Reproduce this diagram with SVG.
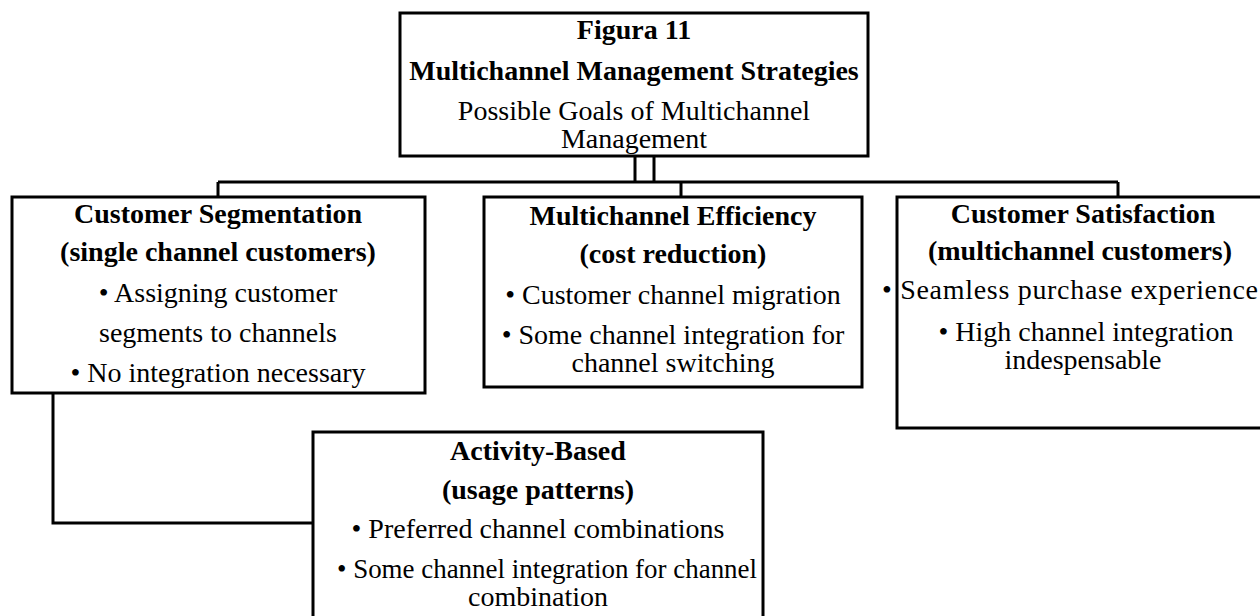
<svg xmlns="http://www.w3.org/2000/svg" width="1260" height="616" viewBox="0 0 1260 616">
<style>
.box{fill:#fff;stroke:#000;stroke-width:3}
.ln{fill:none;stroke:#000;stroke-width:3}
text{font-family:'Liberation Serif','Times New Roman',serif;font-size:28px;fill:#000;text-anchor:middle}
.b{font-weight:bold}
</style>
<rect width="1260" height="616" fill="#fff"/>
<g id="connectors">
<path class="ln" d="M635,156 V182 M654,156 V182 M218,182 H1118 M218,182 V197 M681,182 V197 M1118,182 V197"/>
<path class="ln" d="M53,393 V523 H313"/>
</g>
<g id="top">
<rect class="box" x="400" y="13" width="468" height="143"/>
<text class="b" x="634" y="39">Figura 11</text>
<text class="b" x="634" y="80">Multichannel Management Strategies</text>
<text x="634" y="120">Possible Goals of Multichannel</text>
<text x="634" y="148">Management</text>
</g>
<g id="segmentation">
<rect class="box" x="12" y="197" width="413" height="196"/>
<text class="b" x="218" y="223">Customer Segmentation</text>
<text class="b" x="218" y="261">(single channel customers)</text>
<text x="218" y="302">• Assigning customer</text>
<text x="218" y="342">segments to channels</text>
<text x="218" y="382">• No integration necessary</text>
</g>
<g id="efficiency">
<rect class="box" x="484" y="197" width="378" height="190"/>
<text class="b" x="673" y="225">Multichannel Efficiency</text>
<text class="b" x="673" y="263">(cost reduction)</text>
<text x="673" y="304">• Customer channel migration</text>
<text x="673" y="344">• Some channel integration for</text>
<text x="673" y="372">channel switching</text>
</g>
<g id="satisfaction">
<rect class="box" x="897" y="197" width="380" height="231"/>
<text class="b" x="1083" y="223">Customer Satisfaction</text>
<text class="b" x="1080" y="260">(multichannel customers)</text>
<text x="882" y="299" style="text-anchor:start" textLength="376" lengthAdjust="spacing">• Seamless purchase experience</text>
<text x="1086" y="341">• High channel integration</text>
<text x="1083" y="369">indespensable</text>
</g>
<g id="activity">
<rect class="box" x="313" y="432" width="450" height="200"/>
<text class="b" x="538" y="460">Activity-Based</text>
<text class="b" x="538" y="499">(usage patterns)</text>
<text x="538" y="538">• Preferred channel combinations</text>
<text x="337" y="578" style="text-anchor:start" textLength="420" lengthAdjust="spacingAndGlyphs">• Some channel integration for channel</text>
<text x="538" y="606">combination</text>
</g>
</svg>
